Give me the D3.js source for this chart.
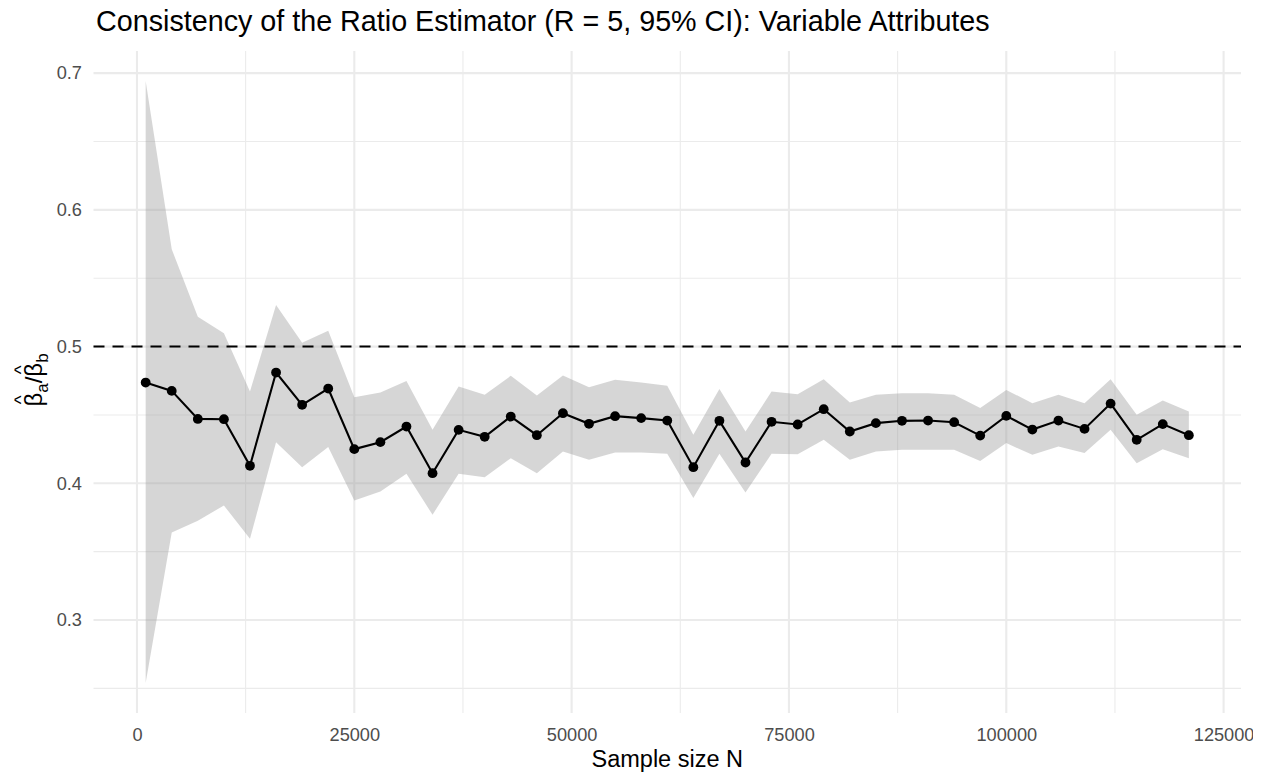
<!DOCTYPE html>
<html><head><meta charset="utf-8">
<script src="https://cdn.jsdelivr.net/npm/d3@7"></script>
<style>body{margin:0;background:#fff;} text{font-family:"Liberation Sans",Arial,sans-serif;}</style>
</head><body>
<svg id="c" width="1270" height="776"></svg>
<script>
const sampleN = [1000,4000,7000,10000,13000,16000,19000,22000,25000,28000,31000,34000,37000,40000,43000,46000,49000,52000,55000,58000,61000,64000,67000,70000,73000,76000,79000,82000,85000,88000,91000,94000,97000,100000,103000,106000,109000,112000,115000,118000,121000];
const estimate = [0.4737,0.4676,0.4471,0.4469,0.4128,0.4810,0.4574,0.4693,0.4250,0.4301,0.4415,0.4074,0.4391,0.4340,0.4488,0.4352,0.4513,0.4435,0.4491,0.4477,0.4459,0.4118,0.4457,0.4152,0.4450,0.4430,0.4542,0.4379,0.4440,0.4457,0.4459,0.4447,0.4349,0.4493,0.4393,0.4459,0.4398,0.4583,0.4318,0.4433,0.4352];
const ciUpper = [0.6942,0.5712,0.5219,0.5098,0.4671,0.5305,0.5029,0.5115,0.4630,0.4664,0.4749,0.4391,0.4708,0.4647,0.4786,0.4642,0.4788,0.4703,0.4757,0.4737,0.4713,0.4355,0.4689,0.4379,0.4671,0.4652,0.4762,0.4591,0.4647,0.4659,0.4659,0.4647,0.4550,0.4683,0.4586,0.4647,0.4586,0.4762,0.4501,0.4605,0.4525];
const ciLower = [0.2540,0.3640,0.3726,0.3838,0.3594,0.4301,0.4118,0.4265,0.3874,0.3940,0.4069,0.3770,0.4069,0.4045,0.4184,0.4074,0.4232,0.4172,0.4225,0.4225,0.4216,0.3892,0.4216,0.3933,0.4216,0.4213,0.4318,0.4172,0.4232,0.4245,0.4245,0.4245,0.4164,0.4294,0.4208,0.4269,0.4221,0.4391,0.4147,0.4250,0.4184];
const referenceValue = 0.5;
const xTicks = [0,25000,50000,75000,100000,125000];
const xMinor = [12500,37500,62500,87500,112500];
const yTicks = [0.3,0.4,0.5,0.6,0.7];
const yMinor = [0.25,0.35,0.45,0.55,0.65];
const titleText = "Consistency of the Ratio Estimator (R = 5, 95% CI): Variable Attributes";
const xTitle = "Sample size N";

const data = sampleN.map((n,i)=>({n, est:estimate[i], lo:ciLower[i], hi:ciUpper[i]}));
const svg = d3.select("#c");
const L=93.5, R=1241, T=51, B=713;

svg.append("defs").append("clipPath").attr("id","imgclip")
  .append("rect").attr("x",0).attr("y",0).attr("width",1253).attr("height",776);

const xr = d3.extent(sampleN), xpad=(xr[1]-xr[0])*0.05;
const yr = [d3.min(ciLower), d3.max(ciUpper)], ypad=(yr[1]-yr[0])*0.05;
const x = d3.scaleLinear().domain([xr[0]-xpad, xr[1]+xpad]).range([L,R]);
const y = d3.scaleLinear().domain([yr[0]-ypad, yr[1]+ypad]).range([B,T]);

const grid = svg.append("g");
grid.selectAll(".ymin").data(yMinor).join("line").attr("x1",L).attr("x2",R)
  .attr("y1",d=>y(d)).attr("y2",d=>y(d)).attr("stroke","#ebebeb").attr("stroke-width",1.1);
grid.selectAll(".xmin").data(xMinor).join("line").attr("y1",T).attr("y2",B)
  .attr("x1",d=>x(d)).attr("x2",d=>x(d)).attr("stroke","#ebebeb").attr("stroke-width",1.1);
grid.selectAll(".ymaj").data(yTicks).join("line").attr("x1",L).attr("x2",R)
  .attr("y1",d=>y(d)).attr("y2",d=>y(d)).attr("stroke","#ebebeb").attr("stroke-width",2.1);
grid.selectAll(".xmaj").data(xTicks).join("line").attr("y1",T).attr("y2",B)
  .attr("x1",d=>x(d)).attr("x2",d=>x(d)).attr("stroke","#ebebeb").attr("stroke-width",2.1);

// ribbon
svg.append("path").datum(data)
  .attr("d", d3.area().x(d=>x(d.n)).y0(d=>y(d.lo)).y1(d=>y(d.hi)))
  .attr("fill","#999999").attr("fill-opacity",0.4);

// reference line
svg.append("line").attr("x1",L).attr("x2",R).attr("y1",y(referenceValue)).attr("y2",y(referenceValue))
  .attr("stroke","#000").attr("stroke-width",2).attr("stroke-dasharray","11,8");

// estimate line and points
svg.append("path").datum(data).attr("d", d3.line().x(d=>x(d.n)).y(d=>y(d.est)))
  .attr("fill","none").attr("stroke","#000").attr("stroke-width",2.1);
svg.selectAll(".pt").data(data).join("circle").attr("cx",d=>x(d.n)).attr("cy",d=>y(d.est))
  .attr("r",4.9).attr("fill","#000");

// axes labels
const xAxis = d3.axisBottom(x).tickValues(xTicks).tickFormat(d3.format("d")).tickSize(0).tickPadding(0);
const gx = svg.append("g").attr("clip-path","url(#imgclip)").append("g").attr("transform",`translate(0,741)`).call(xAxis);
gx.select(".domain").remove();
gx.selectAll("text").attr("fill","#4d4d4d").style("font-size","18.2px").attr("dy","0");

const yAxis = d3.axisLeft(y).tickValues(yTicks).tickFormat(d3.format(".1f")).tickSize(0).tickPadding(0);
const gy = svg.append("g").attr("transform",`translate(82,0)`).call(yAxis);
gy.select(".domain").remove();
gy.selectAll("text").attr("fill","#4d4d4d").style("font-size","18.2px");

// titles
const tt = svg.append("text").attr("x",96).attr("y",31).attr("fill","#000").style("font-size","23px").text(titleText);
const tw = tt.node().getComputedTextLength();
tt.style("font-size", (23*894/tw).toFixed(2)+"px");

svg.append("text").attr("x",(L+R)/2).attr("y",766.5).attr("text-anchor","middle").attr("fill","#000")
  .style("font-size","23.5px").text(xTitle);

// y axis title: beta-hat_a / beta-hat_b, rotated
const yt = svg.append("g").attr("transform","translate(42,380) rotate(-90)");
const ylab = yt.append("text").attr("text-anchor","middle").attr("fill","#000").style("font-size","24px");
ylab.append("tspan").text("β");
ylab.append("tspan").attr("dy",6).style("font-size","17px").text("a");
ylab.append("tspan").attr("dy",-6).text("/");
ylab.append("tspan").text("β");
ylab.append("tspan").attr("dy",6).style("font-size","17px").text("b");
const bb = ylab.node();
const ext1 = bb.getExtentOfChar(0), ext2 = bb.getExtentOfChar(3);
[ext1,ext2].forEach(e=>{
  yt.append("text").attr("x",e.x+e.width/2).attr("y",e.y+7).attr("text-anchor","middle")
    .attr("fill","#000").style("font-size","19px").text("^");
});
</script>
</body></html>
